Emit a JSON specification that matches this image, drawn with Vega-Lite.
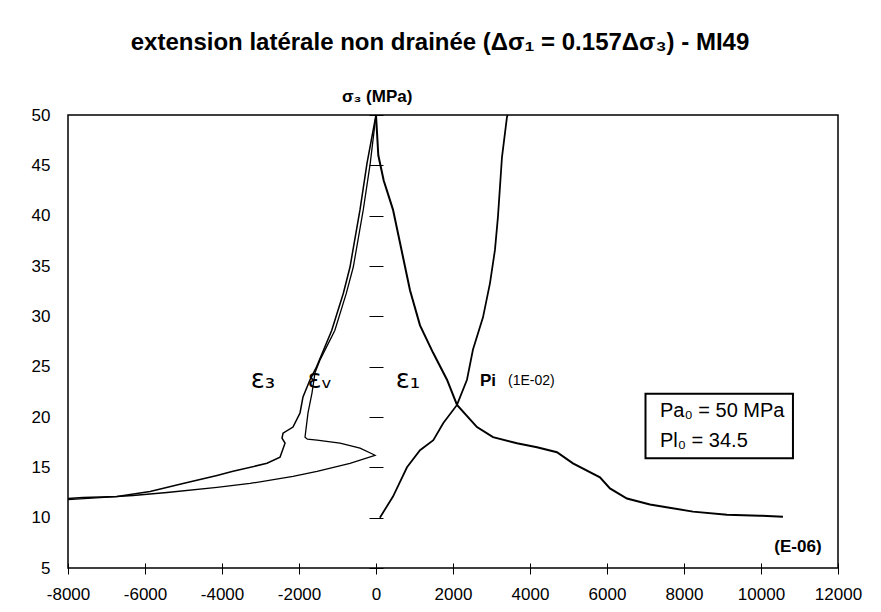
{
  "$schema": "https://vega.github.io/schema/vega-lite/v6.json",
  "width": 770,
  "height": 453,
  "autosize": {"type": "none"},
  "padding": {"left": 68, "top": 115, "right": 43, "bottom": 44},
  "background": "white",
  "title": {
    "text": "extension latérale non drainée (Δσ₁ = 0.157Δσ₃) - MI49",
    "font": "Liberation Sans",
    "fontSize": 24,
    "fontWeight": "bold",
    "color": "black",
    "anchor": "middle",
    "dx": -13,
    "offset": 33
  },
  "config": {
    "view": {"stroke": "black", "strokeWidth": 1.5},
    "axis": {"labelFont": "Liberation Sans", "labelFontSize": 17, "labelColor": "black", "tickColor": "black", "grid": false}
  },
  "datasets": {
    "curves": [
      {"s": "e1", "x": 0, "y": 50}, {"s": "e1", "x": 60, "y": 46.0}, {"s": "e1", "x": 200, "y": 43.5}, {"s": "e1", "x": 441, "y": 40.6},
      {"s": "e1", "x": 701, "y": 35.9}, {"s": "e1", "x": 883, "y": 32.6}, {"s": "e1", "x": 1143, "y": 29.1}, {"s": "e1", "x": 1480, "y": 26.4},
      {"s": "e1", "x": 1844, "y": 23.7}, {"s": "e1", "x": 2104, "y": 21.2}, {"s": "e1", "x": 2623, "y": 19.0}, {"s": "e1", "x": 3039, "y": 18.0},
      {"s": "e1", "x": 3662, "y": 17.4}, {"s": "e1", "x": 4181, "y": 17.0}, {"s": "e1", "x": 4700, "y": 16.5}, {"s": "e1", "x": 5116, "y": 15.4},
      {"s": "e1", "x": 5817, "y": 14.0}, {"s": "e1", "x": 6077, "y": 12.9}, {"s": "e1", "x": 6518, "y": 11.9}, {"s": "e1", "x": 7116, "y": 11.3},
      {"s": "e1", "x": 8233, "y": 10.6}, {"s": "e1", "x": 9115, "y": 10.3}, {"s": "e1", "x": 9972, "y": 10.2}, {"s": "e1", "x": 10570, "y": 10.1},
      {"s": "pi", "x": 100, "y": 10.0}, {"s": "pi", "x": 441, "y": 12.1}, {"s": "pi", "x": 805, "y": 15.0}, {"s": "pi", "x": 1143, "y": 16.7},
      {"s": "pi", "x": 1489, "y": 17.7}, {"s": "pi", "x": 1749, "y": 19.4}, {"s": "pi", "x": 2104, "y": 21.2}, {"s": "pi", "x": 2363, "y": 23.7},
      {"s": "pi", "x": 2519, "y": 26.7}, {"s": "pi", "x": 2779, "y": 29.9}, {"s": "pi", "x": 2961, "y": 33.3}, {"s": "pi", "x": 3090, "y": 36.6},
      {"s": "pi", "x": 3168, "y": 39.9}, {"s": "pi", "x": 3272, "y": 45.8}, {"s": "pi", "x": 3402, "y": 49.8}, {"s": "pi", "x": 3420, "y": 50},
      {"s": "e3", "x": 0, "y": 50}, {"s": "e3", "x": -234, "y": 45.2}, {"s": "e3", "x": -415, "y": 40.6}, {"s": "e3", "x": -675, "y": 34.9},
      {"s": "e3", "x": -848, "y": 32.3}, {"s": "e3", "x": -1151, "y": 28.6}, {"s": "e3", "x": -1541, "y": 25.0}, {"s": "e3", "x": -1714, "y": 23.7},
      {"s": "e3", "x": -1896, "y": 22.0}, {"s": "e3", "x": -1974, "y": 20.4}, {"s": "e3", "x": -2156, "y": 19.0}, {"s": "e3", "x": -2415, "y": 18.4},
      {"s": "e3", "x": -2441, "y": 17.9}, {"s": "e3", "x": -2363, "y": 17.4}, {"s": "e3", "x": -2493, "y": 16.0}, {"s": "e3", "x": -2831, "y": 15.4},
      {"s": "e3", "x": -3714, "y": 14.6}, {"s": "e3", "x": -4130, "y": 14.2}, {"s": "e3", "x": -5012, "y": 13.4}, {"s": "e3", "x": -5869, "y": 12.6},
      {"s": "e3", "x": -6726, "y": 12.1}, {"s": "e3", "x": -7609, "y": 12.0}, {"s": "e3", "x": -8000, "y": 11.9},
      {"s": "ev", "x": 0, "y": 50}, {"s": "ev", "x": -150, "y": 45.2}, {"s": "ev", "x": -330, "y": 40.6}, {"s": "ev", "x": -590, "y": 34.9},
      {"s": "ev", "x": -770, "y": 32.3}, {"s": "ev", "x": -1070, "y": 28.6}, {"s": "ev", "x": -1450, "y": 25.7}, {"s": "ev", "x": -1584, "y": 24.4},
      {"s": "ev", "x": -1662, "y": 22.4}, {"s": "ev", "x": -1766, "y": 20.4}, {"s": "ev", "x": -1844, "y": 18.0}, {"s": "ev", "x": -1780, "y": 17.8},
      {"s": "ev", "x": -1532, "y": 17.7}, {"s": "ev", "x": -935, "y": 17.4}, {"s": "ev", "x": -415, "y": 16.9}, {"s": "ev", "x": -78, "y": 16.3},
      {"s": "ev", "x": -26, "y": 16.2}, {"s": "ev", "x": -675, "y": 15.4}, {"s": "ev", "x": -1532, "y": 14.6}, {"s": "ev", "x": -2156, "y": 14.1},
      {"s": "ev", "x": -3272, "y": 13.4}, {"s": "ev", "x": -4130, "y": 13.0}, {"s": "ev", "x": -5428, "y": 12.5}, {"s": "ev", "x": -6310, "y": 12.2},
      {"s": "ev", "x": -7168, "y": 12.0}, {"s": "ev", "x": -8000, "y": 11.8}
    ],
    "greek": [
      {"label": "ε₃", "x": -2935, "y": 23.7},
      {"label": "εᵥ", "x": -1454, "y": 23.7},
      {"label": "ε₁", "x": 830, "y": 23.7}
    ],
    "box": [{"x": 7000, "x2": 10830, "y": 15.9, "y2": 22.3}],
    "boxText": [
      {"label": "Pa₀ = 50 MPa", "x": 7376, "y": 20.6},
      {"label": "Pl₀ = 34.5", "x": 7376, "y": 17.6}
    ],
    "bold": [
      {"label": "Pi", "x": 2909, "y": 23.6, "a": "left"},
      {"label": "(E-06)", "x": 10960, "y": 7.1, "a": "center"}
    ],
    "small": [{"label": "(1E-02)", "x": 3428, "y": 23.6}],
    "axisTitle": [{"label": "σ₃ (MPa)", "x": 30, "y": 51.8}]
  },
  "layer": [
    {
      "mark": {"type": "rule", "color": "black", "strokeWidth": 1.2},
      "encoding": {"x": {"datum": 0, "type": "quantitative"}}
    },
    {
      "data": {"name": "curves"},
      "mark": {"type": "line", "color": "black"},
      "encoding": {
        "x": {
          "field": "x", "type": "quantitative",
          "scale": {"domain": [-8000, 12000], "nice": false, "zero": false},
          "axis": {"title": null, "values": [-8000, -6000, -4000, -2000, 0, 2000, 4000, 6000, 8000, 10000, 12000], "labelExpr": "'' + datum.value", "offset": -5, "tickSize": 11, "domain": false, "labelPadding": 12, "labelFlush": false, "labelOverlap": false}
        },
        "y": {
          "field": "y", "type": "quantitative",
          "scale": {"domain": [5, 50], "nice": false, "zero": false},
          "axis": {"title": null, "values": [5, 10, 15, 20, 25, 30, 35, 40, 45, 50], "labelExpr": "'' + datum.value", "offset": -315, "tickSize": 14, "domain": false, "labelPadding": 319, "labelFlush": false, "labelOverlap": false}
        },
        "detail": {"field": "s"},
        "strokeWidth": {"field": "s", "type": "nominal", "scale": {"domain": ["e1", "pi", "e3", "ev"], "range": [2, 1.3, 1.5, 2]}, "legend": null},
        "order": {"value": null}
      }
    },
    {
      "data": {"name": "box"},
      "mark": {"type": "rect", "fill": "white", "stroke": "black", "strokeWidth": 2},
      "encoding": {
        "x": {"field": "x", "type": "quantitative"},
        "x2": {"field": "x2"},
        "y": {"field": "y", "type": "quantitative"},
        "y2": {"field": "y2"}
      }
    },
    {
      "data": {"name": "boxText"},
      "mark": {"type": "text", "align": "left", "baseline": "middle", "font": "Liberation Sans", "fontSize": 20, "color": "black"},
      "encoding": {
        "x": {"field": "x", "type": "quantitative"},
        "y": {"field": "y", "type": "quantitative"},
        "text": {"field": "label"}
      }
    },
    {
      "data": {"name": "greek"},
      "mark": {"type": "text", "align": "center", "baseline": "middle", "font": "DejaVu Sans", "fontSize": 26, "color": "black"},
      "encoding": {
        "x": {"field": "x", "type": "quantitative"},
        "y": {"field": "y", "type": "quantitative"},
        "text": {"field": "label"}
      }
    },
    {
      "data": {"name": "bold"},
      "mark": {"type": "text", "baseline": "middle", "font": "Liberation Sans", "fontSize": 17, "fontWeight": "bold", "color": "black"},
      "encoding": {
        "x": {"field": "x", "type": "quantitative"},
        "y": {"field": "y", "type": "quantitative"},
        "text": {"field": "label"},
        "align": {"field": "a", "type": "nominal", "scale": null}
      }
    },
    {
      "data": {"name": "small"},
      "mark": {"type": "text", "align": "left", "baseline": "middle", "font": "Liberation Sans", "fontSize": 14, "color": "black"},
      "encoding": {
        "x": {"field": "x", "type": "quantitative"},
        "y": {"field": "y", "type": "quantitative"},
        "text": {"field": "label"}
      }
    },
    {
      "data": {"name": "axisTitle"},
      "mark": {"type": "text", "align": "center", "baseline": "middle", "font": "Liberation Sans", "fontSize": 17, "fontWeight": "bold", "color": "black"},
      "encoding": {
        "x": {"field": "x", "type": "quantitative"},
        "y": {"field": "y", "type": "quantitative"},
        "text": {"field": "label"}
      }
    }
  ]
}
